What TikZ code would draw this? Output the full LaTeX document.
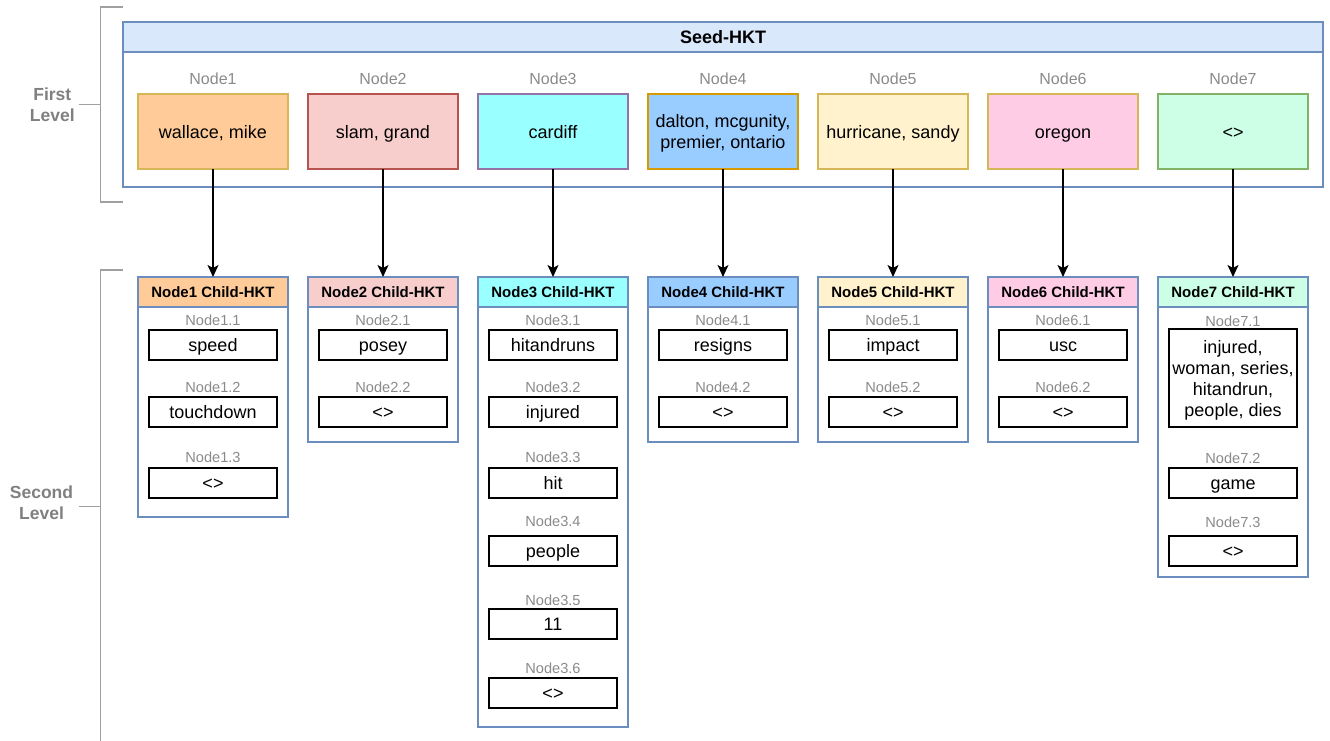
\documentclass[tikz,border=0pt]{standalone}
\usepackage{fontspec}
\setmainfont{Liberation Sans}
\usetikzlibrary{arrows.meta}
\definecolor{hdrblue}{HTML}{DAE8FC}
\definecolor{edgeblue}{HTML}{6C8EBF}
\definecolor{labgray}{HTML}{8A8A8A}
\definecolor{levgray}{HTML}{808080}
\definecolor{brgray}{HTML}{A0A0A0}
\definecolor{f1}{HTML}{FFCC99}\definecolor{d1}{HTML}{D6B656}
\definecolor{f2}{HTML}{F8CECC}\definecolor{d2}{HTML}{B85450}
\definecolor{f3}{HTML}{99FFFF}\definecolor{d3}{HTML}{9673A6}
\definecolor{f4}{HTML}{99CCFF}\definecolor{d4}{HTML}{D79B00}
\definecolor{f5}{HTML}{FFF2CC}\definecolor{d5}{HTML}{D6B656}
\definecolor{f6}{HTML}{FFCCE6}\definecolor{d6}{HTML}{D6B656}
\definecolor{f7}{HTML}{CCFFE6}\definecolor{d7}{HTML}{82B366}
\tikzset{
  every node/.style={inner sep=0pt, outer sep=0pt},
  bracket/.style={draw=brgray, line width=1.4pt},
  levellab/.style={text=levgray, align=center, font=\bfseries\fontsize{17.5}{21}\selectfont, text depth=0pt},
  bigbox/.style={draw=edgeblue, line width=1.2pt},
  hdr/.style={draw=edgeblue, fill=hdrblue, line width=1.2pt, font=\bfseries\fontsize{18}{21}\selectfont, text height=12.9pt, text depth=0pt},
  toplab/.style={text=labgray, font=\fontsize{16}{19}\selectfont, text height=11.5pt, text depth=0pt},
  topnode/.style={line width=1.4pt, minimum width=150pt, minimum height=75pt, align=center, font=\fontsize{18}{21}\selectfont, text depth=0pt},
  single/.style={text height=12.9pt},
  topsingle/.style={text height=14.9pt},
  childbox/.style={draw=edgeblue, line width=1.2pt, minimum width=150pt, anchor=north},
  childhdr/.style={draw=edgeblue, line width=1.2pt, minimum width=150pt, minimum height=30pt, anchor=north, font=\bfseries\fontsize{15}{18}\selectfont, text height=10.8pt, text depth=0pt},
  sublab/.style={text=labgray, font=\fontsize{14.6}{17}\selectfont, text height=10.5pt, text depth=0pt},
  item/.style={draw=black, fill=white, line width=1.4pt, minimum width=128pt, minimum height=30pt, align=center, font=\fontsize{18}{21}\selectfont, text depth=0pt},
  conn/.style={draw=black, line width=1.4pt, -{Stealth[length=12pt, width=11pt, inset=3pt]}}
}
\begin{document}
\begin{tikzpicture}[x=1pt,y=-1pt]
\useasboundingbox (0,0) rectangle (1330,741);
% level brackets
\coordinate (b1a) at (123,7);
\coordinate (b1b) at (100.5,7);
\coordinate (b1c) at (100.5,202);
\coordinate (b1d) at (123,202);
\coordinate (b1m) at (100.5,104.7);
\coordinate (b1t) at (78.7,104.7);
\draw[bracket] (b1a) -- (b1b) -- (b1c) -- (b1d);
\draw[bracket] (b1t) -- (b1m);
\node[levellab] (first) at (52.3,105) {First\\Level};
\coordinate (b2a) at (123,270);
\coordinate (b2b) at (100.5,270);
\coordinate (b2c) at (100.5,741);
\coordinate (b2m) at (100.5,506.7);
\coordinate (b2t) at (78.7,506.7);
\draw[bracket] (b2a) -- (b2b) -- (b2c);
\draw[bracket] (b2t) -- (b2m);
\node[levellab] (second) at (41.5,503) {Second\\Level};
% seed container
\node[bigbox, minimum width=1200pt, minimum height=165pt, anchor=north west] (seed) at (123,22) {};
\node[hdr, minimum width=1200pt, minimum height=30pt, anchor=north west] (seedhdr) at (123,22) {Seed-HKT};
% top-level nodes
\foreach \i/\x/\t in {1/213/{wallace, mike}, 2/383/{slam, grand}, 3/553/cardiff, 5/893/{hurricane, sandy}, 6/1063/oregon, 7/1233/{<>}}{
  \node[toplab] (tl\i) at (\x,79) {Node\i};
  \node[topnode, topsingle, fill=f\i, draw=d\i] (n\i) at (\x,131.5) {\t};
}
\node[toplab] (tl4) at (723,79) {Node4};
\node[topnode, fill=f4, draw=d4] (n4) at (723,131.5) {dalton, mcgunity,\\premier, ontario};
% child containers
\foreach \i/\x/\h in {1/213/240, 2/383/165, 3/553/450, 4/723/165, 5/893/165, 6/1063/165, 7/1233/300}{
  \node[childbox, minimum height=\h pt] (c\i) at (\x,277) {};
  \node[childhdr, fill=f\i] (ch\i) at (\x,277) {Node\i{} Child-HKT};
  \draw[conn] (n\i) -- (ch\i);
}
% child items
\foreach \k/\ly/\y/\t in {1/320/345/speed, 2/387/412/touchdown, 3/457/483/{<>}}{
  \node[sublab] (l1\k) at (213,\ly) {Node1.\k};
  \node[item, single] (i1\k) at (213,\y) {\t};
}
\foreach \k/\ly/\y/\t in {1/320/345/posey, 2/387/412/{<>}}{
  \node[sublab] (l2\k) at (383,\ly) {Node2.\k};
  \node[item, single] (i2\k) at (383,\y) {\t};
}
\foreach \k/\ly/\y/\t in {1/320/345/hitandruns, 2/387/412/injured, 3/457/483/hit, 4/521.5/551/people, 5/600/624/11, 6/668/693/{<>}}{
  \node[sublab] (l3\k) at (553,\ly) {Node3.\k};
  \node[item, single] (i3\k) at (553,\y) {\t};
}
\foreach \k/\ly/\y/\t in {1/320/345/resigns, 2/387/412/{<>}}{
  \node[sublab] (l4\k) at (723,\ly) {Node4.\k};
  \node[item, single] (i4\k) at (723,\y) {\t};
}
\foreach \k/\ly/\y/\t in {1/320/345/impact, 2/387/412/{<>}}{
  \node[sublab] (l5\k) at (893,\ly) {Node5.\k};
  \node[item, single] (i5\k) at (893,\y) {\t};
}
\foreach \k/\ly/\y/\t in {1/320/345/usc, 2/387/412/{<>}}{
  \node[sublab] (l6\k) at (1063,\ly) {Node6.\k};
  \node[item, single] (i6\k) at (1063,\y) {\t};
}
\node[sublab] (l71) at (1233,321) {Node7.1};
\node[item, minimum height=98pt] (i71) at (1233,378) {injured,\\woman, series,\\hitandrun,\\people, dies};
\foreach \k/\ly/\y/\t in {2/458/483/game, 3/522/551/{<>}}{
  \node[sublab] (l7\k) at (1233,\ly) {Node7.\k};
  \node[item, single] (i7\k) at (1233,\y) {\t};
}
\end{tikzpicture}
\end{document}
